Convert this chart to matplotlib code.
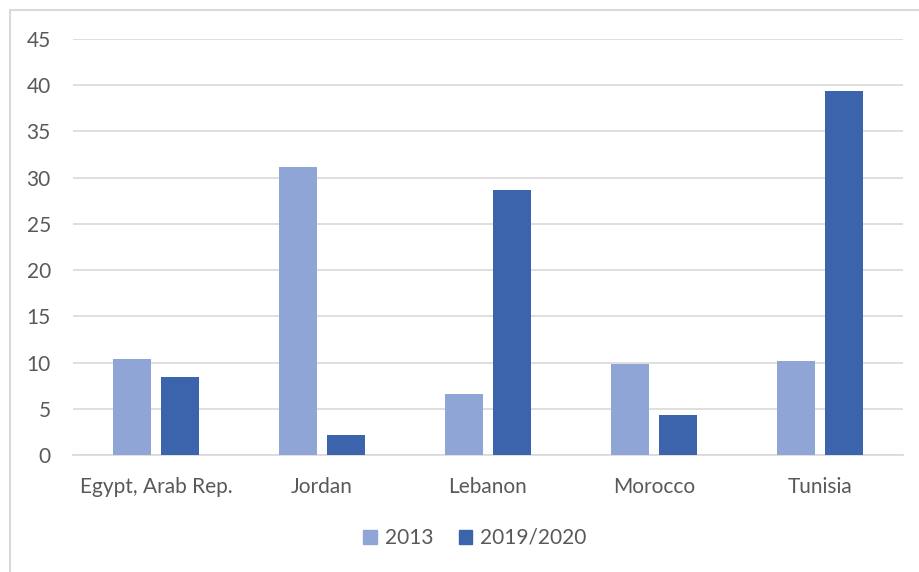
import matplotlib
matplotlib.use("Agg")
import matplotlib.pyplot as plt
from matplotlib.patches import Rectangle, Patch
import numpy as np

categories = ["Egypt, Arab Rep.", "Jordan", "Lebanon", "Morocco", "Tunisia"]
series_names = ["2013", "2019/2020"]
values_2013 = [10.4, 31.2, 6.6, 9.8, 10.2]
values_2019 = [8.4, 2.2, 28.7, 4.3, 39.4]
y_ticks = [0, 5, 10, 15, 20, 25, 30, 35, 40, 45]

light = "#8FA5D6"
dark = "#3C64AC"
text_color = "#595959"
grid_color = "#D9D9D9"

plt.rcParams["font.family"] = ["Lato", "DejaVu Sans"]

fig = plt.figure(figsize=(9.2, 5.72), dpi=100)
W, H = 920, 572
ax = fig.add_axes([73 / W, 1 - 455 / H, (903 - 73) / W, (455 - 39) / H])

x = np.arange(len(categories))
width = 0.23
off = 0.145
ax.bar(x - off, values_2013, width, color=light, label=series_names[0], zorder=3)
ax.bar(x + off, values_2019, width, color=dark, label=series_names[1], zorder=3)

ax.set_xlim(-0.5, len(categories) - 0.5)
ax.set_ylim(0, 45)
ax.set_yticks(y_ticks)
ax.set_yticklabels([str(t) for t in y_ticks])
ax.set_xticks(x)
ax.set_xticklabels(categories)
ax.tick_params(axis="both", length=0, labelsize=15, colors=text_color)
ax.tick_params(axis="y", pad=16)
ax.tick_params(axis="x", pad=16)
ax.grid(axis="y", color=grid_color, linewidth=1.2, zorder=0)
for s in ["top", "right", "left"]:
    ax.spines[s].set_visible(False)
ax.spines["bottom"].set_color(grid_color)
ax.spines["bottom"].set_linewidth(1.2)

handles = [Patch(color=light), Patch(color=dark)]
fig.legend(handles, series_names, loc="center", bbox_to_anchor=(475 / W, 1 - 538 / H),
           ncol=2, frameon=False, fontsize=15, labelcolor=text_color,
           handlelength=0.65, handleheight=0.65, handletextpad=0.4, columnspacing=1.2)

# chart frame (left and top edges visible)
fig.patches.append(Rectangle((10 / W, -0.1), 1.2, 1 - 10 / H + 0.1, transform=fig.transFigure,
                             fill=False, edgecolor=grid_color, linewidth=1.5))

fig.savefig("out.png", dpi=100, facecolor="white")
